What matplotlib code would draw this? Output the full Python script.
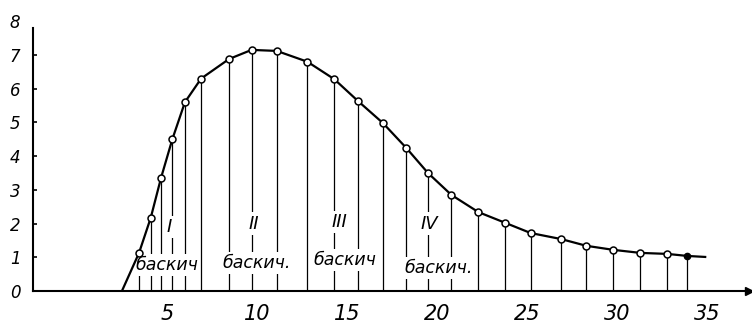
import matplotlib
matplotlib.use("Agg")
import matplotlib.pyplot as plt

# growth curve: start and end of the drawn line plus the measured points
curve_x = [2.5, 3.45, 4.1, 4.67, 5.3, 6.0, 6.9, 8.45, 9.7, 11.1, 12.8, 14.3, 15.6,
           17.0, 18.3, 19.5, 20.8, 22.3, 23.8, 25.2, 26.9, 28.3, 29.8, 31.3,
           32.8, 33.9, 34.9]
curve_y = [0.0, 1.13, 2.17, 3.35, 4.5, 5.6, 6.3, 6.88, 7.15, 7.12, 6.8, 6.28, 5.64,
           4.98, 4.24, 3.5, 2.85, 2.34, 2.02, 1.72, 1.54, 1.34, 1.22, 1.13,
           1.1, 1.04, 1.01]

x_ticks = [5, 10, 15, 20, 25, 30, 35]
y_ticks = [0, 1, 2, 3, 4, 5, 6, 7, 8]

stage_names = ["I", "II", "III", "IV"]
stage_words = ["баскич", "баскич.", "баскич", "баскич."]
stage_num_x = [5.1, 9.8, 14.6, 19.6]
stage_num_y = [1.9, 2.0, 2.05, 2.0]
stage_word_x = [5.0, 10.0, 14.9, 20.1]
stage_word_y = [0.77, 0.83, 0.92, 0.68]

plt.rcParams["font.family"] = ["DejaVu Sans"]

fig = plt.figure(figsize=(7.52, 3.23), dpi=100)
ax = fig.add_axes([33 / 752, 32 / 323, 1 - 33 / 752, 1 - 32 / 323])
ax.set_xlim(-2.44, 37.5)
ax.set_ylim(0, 8.63)

pts_x = curve_x[1:-1]
pts_y = curve_y[1:-1]

# drop lines from every point to the axis
ax.vlines(pts_x, 0, pts_y, color="black", lw=0.9, zorder=1)

ax.plot(curve_x, curve_y, color="black", lw=1.6, zorder=3)
ax.plot(pts_x[:-1], pts_y[:-1], "o", ms=5, mfc="white", mec="black", mew=1.1, zorder=4)
ax.plot(pts_x[-1:], pts_y[-1:], "o", ms=4.5, mfc="black", mec="black", zorder=4)

for name, nx, ny in zip(stage_names, stage_num_x, stage_num_y):
    ax.text(nx, ny, name, ha="center", va="center", fontsize=13, style="italic",
            bbox=dict(facecolor="white", edgecolor="none", pad=1.5), zorder=2)
for word, wx, wy in zip(stage_words, stage_word_x, stage_word_y):
    ax.text(wx, wy, word, ha="center", va="center", fontsize=12.5, style="italic",
            bbox=dict(facecolor="white", edgecolor="none", pad=1.5), zorder=2)

for side in ["top", "right"]:
    ax.spines[side].set_visible(False)
ax.spines["left"].set_bounds(0, 7.8)
ax.spines["left"].set_linewidth(1.5)
ax.spines["bottom"].set_linewidth(1.5)

# arrowhead at the end of the x axis
ax.plot([37.35], [0], marker=">", ms=6, color="black", clip_on=False, zorder=5)

ax.set_xticks(x_ticks)
ax.set_xticklabels([str(v) for v in x_ticks], fontsize=15, style="italic")
ax.tick_params(axis="x", length=0, pad=9)
ax.set_yticks(y_ticks)
ax.set_yticklabels([str(v) for v in y_ticks], fontsize=12, style="italic")
ax.tick_params(axis="y", direction="in", length=3, width=1.2, pad=9)
# the "8" label sits above the end of the axis, without a tick mark
ax.yaxis.get_major_ticks()[-1].tick1line.set_visible(False)

fig.savefig("out.png", dpi=100)
